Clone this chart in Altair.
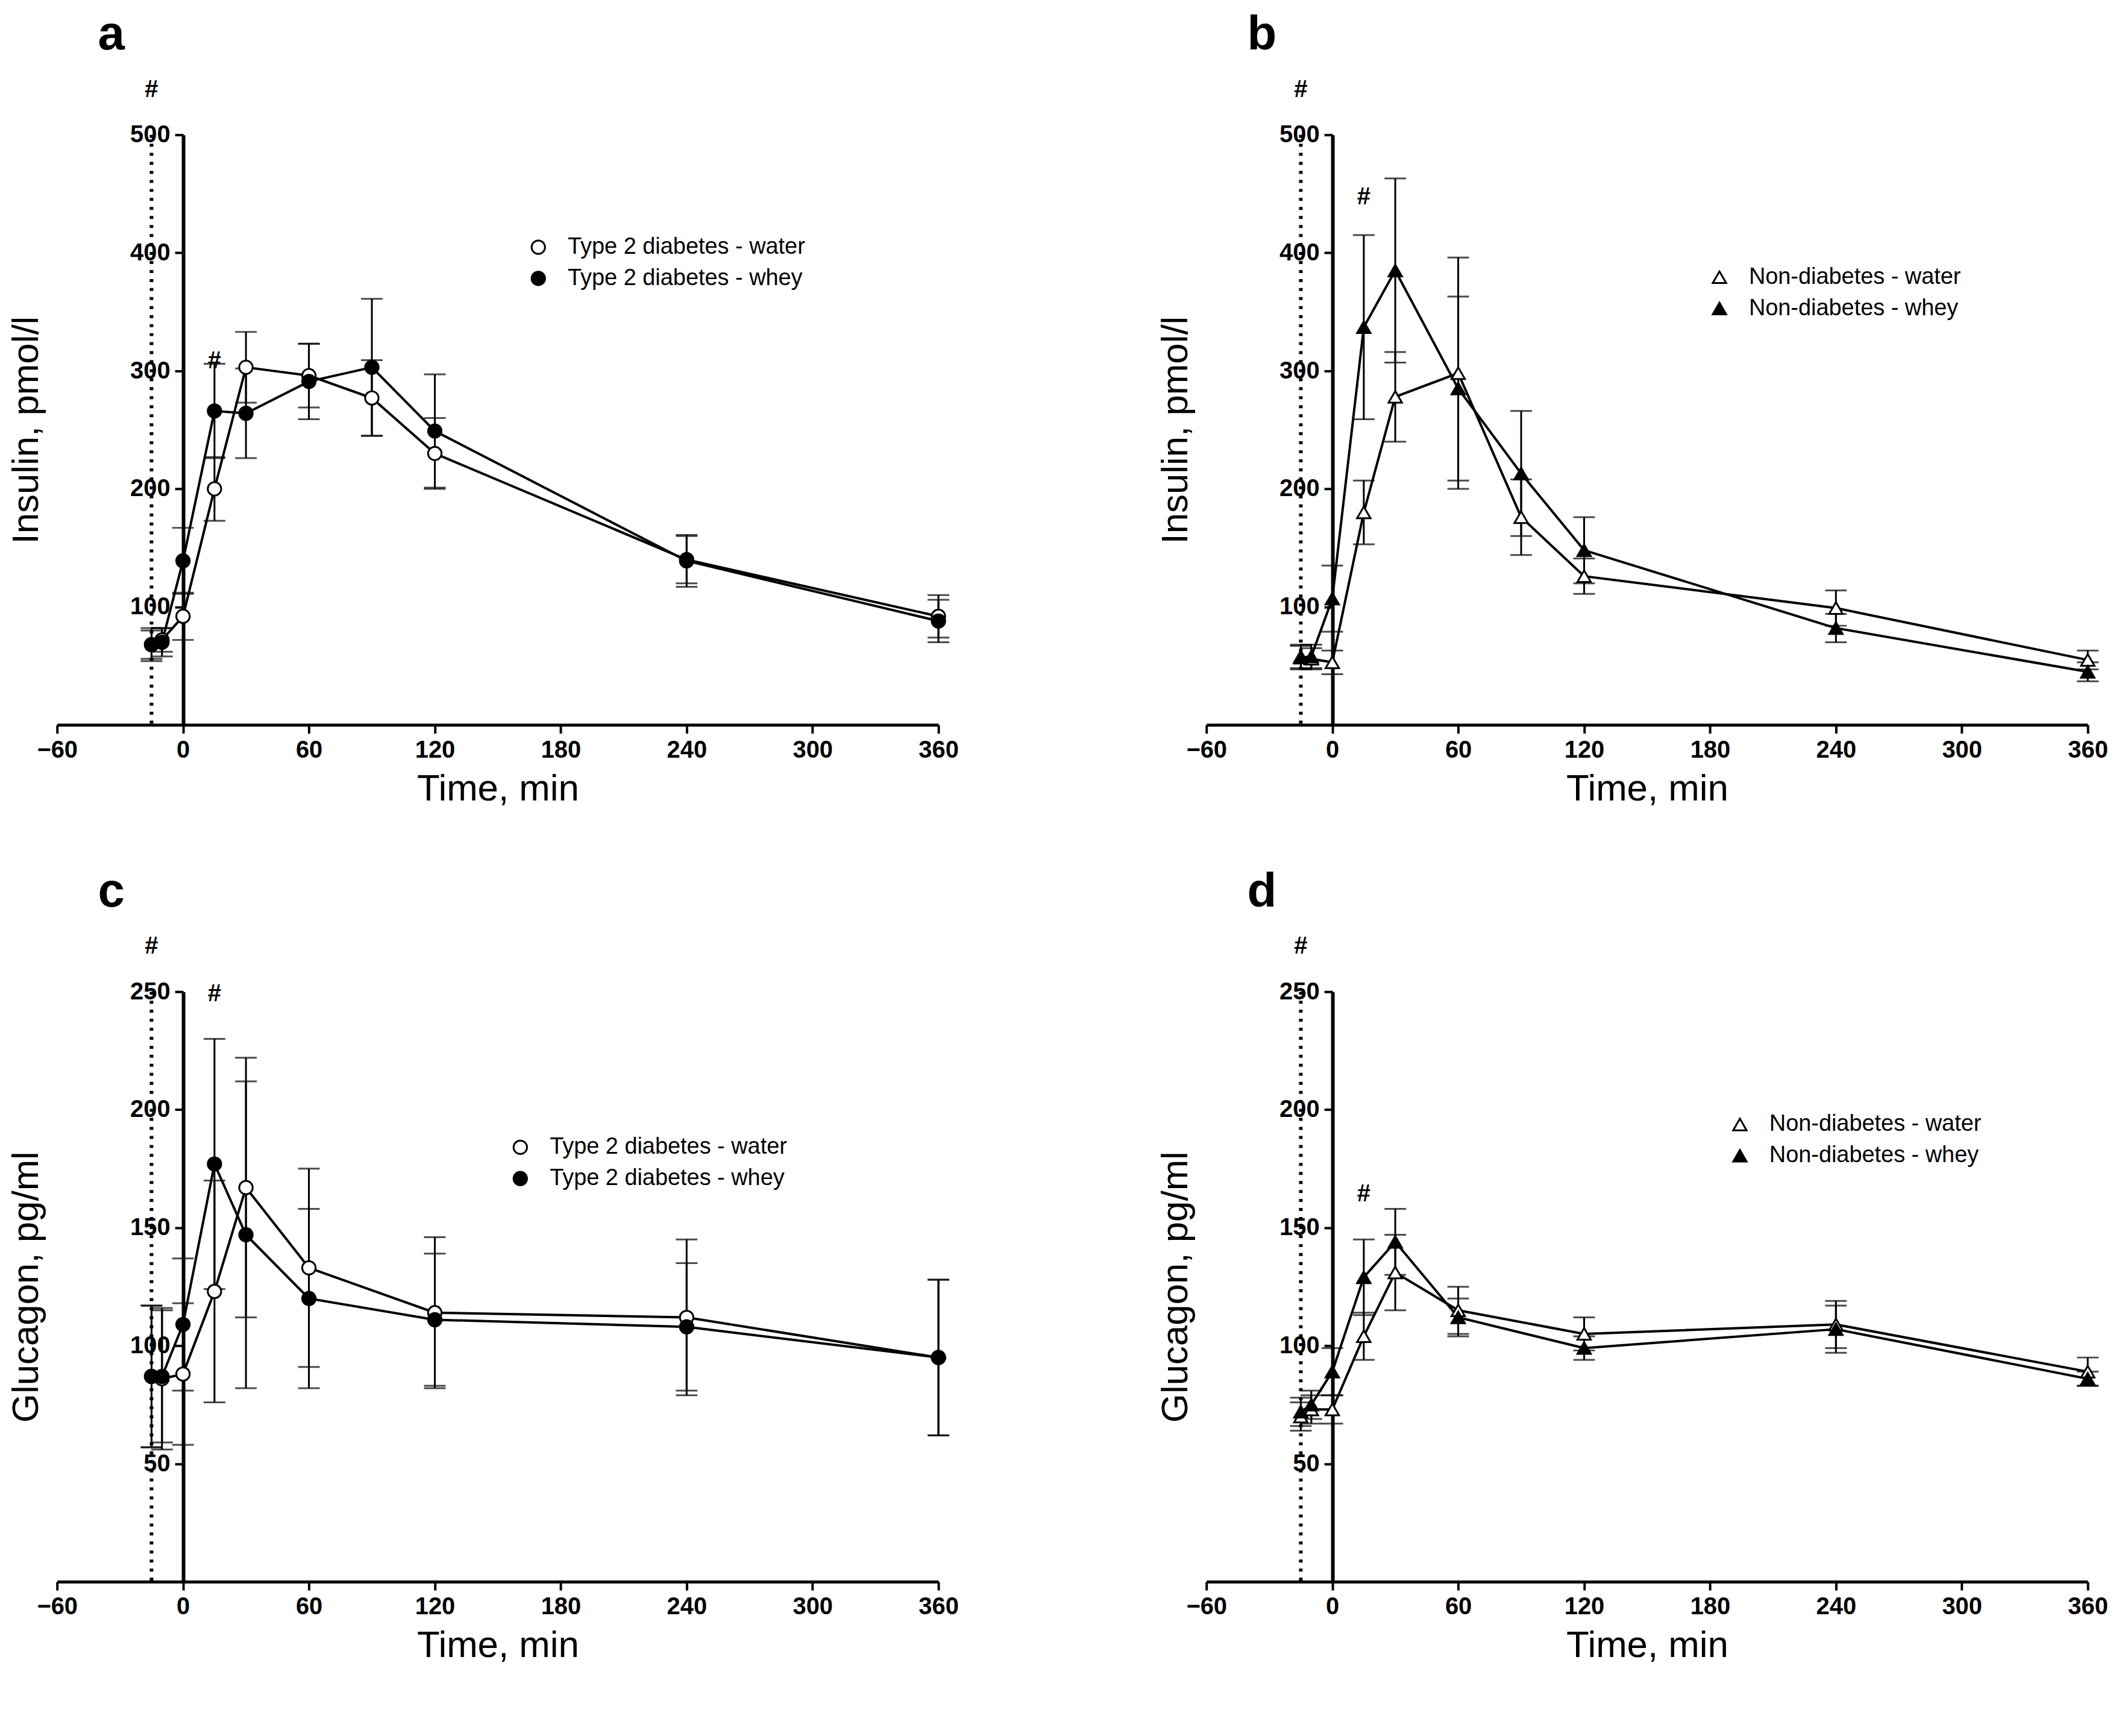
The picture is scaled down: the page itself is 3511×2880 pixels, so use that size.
import altair as alt
import pandas as pd

FUENTE = "Liberation Sans"

T_INS = [-15, -10, 0, 15, 30, 60, 90, 120, 240, 360]
T_GLU = [-15, -10, 0, 15, 30, 60, 120, 240, 360]

# a: insulina, diabetes tipo 2
A_AGUA = [68, 72, 92, 200, 303, 296, 277, 230, 140, 92]
A_AGUA_ERR = [12, 10, 20, 27, 30, 27, 32, 30, 20, 18]
A_SUERO = [68, 70, 139, 266, 264, 291, 303, 249, 139, 88]
A_SUERO_ERR = [14, 12, 28, 40, 38, 32, 58, 48, 22, 18]

# b: insulina, sin diabetes
B_AGUA = [58, 56, 53, 180, 278, 298, 176, 126, 99, 55]
B_AGUA_ERR = [10, 9, 10, 27, 38, 98, 32, 15, 15, 8]
B_SUERO = [57, 58, 107, 337, 385, 285, 213, 148, 82, 45]
B_SUERO_ERR = [10, 10, 28, 78, 78, 78, 53, 28, 12, 8]

# c: glucagón, diabetes tipo 2
C_AGUA = [87, 86, 88, 123, 167, 133, 114, 112, 95]
C_AGUA_ERR = [30, 30, 30, 47, 55, 42, 32, 33, 33]
C_SUERO = [87, 87, 109, 177, 147, 120, 111, 108, 95]
C_SUERO_ERR = [30, 28, 28, 53, 65, 38, 28, 27, 33]

# d: glucagón, sin diabetes
D_AGUA = [70, 73, 73, 104, 131, 115, 105, 109, 89]
D_AGUA_ERR = [6, 6, 6, 10, 16, 10, 7, 10, 6]
D_SUERO = [72, 75, 89, 129, 144, 112, 99, 107, 86]
D_SUERO_ERR = [6, 6, 10, 16, 14, 8, 5, 10, 3]

ALMOHADILLAS = {
    "a": [(-15, 526), (15, 296)],
    "b": [(-15, 526), (15, 435)],
    "c": [(-15, 263), (15, 243)],
    "d": [(-15, 263), (15, 158)],
}

W, H = 1467, 982


def leyenda(lx, ly):
    return alt.Legend(title=None, orient="none", legendX=lx, legendY=ly,
                      labelFontSize=38, labelFont=FUENTE, labelLimit=0,
                      symbolSize=500, symbolStrokeWidth=3, rowPadding=14,
                      labelOffset=30)


def panel(letra, tiempos, agua, agua_err, suero, suero_err, grupo, forma,
          ymax, yvalores, ytitulo, lx, ly):
    n_agua = f"{grupo} - water"
    n_suero = f"{grupo} - whey"
    filas = []
    for t, v, e in zip(tiempos, agua, agua_err):
        filas.append({"t": t, "v": v, "lo": v - e, "hi": v + e, "serie": n_agua})
    for t, v, e in zip(tiempos, suero, suero_err):
        filas.append({"t": t, "v": v, "lo": v - e, "hi": v + e, "serie": n_suero})
    df = pd.DataFrame(filas)
    orden = [n_agua, n_suero]

    x = alt.X("t:Q", scale=alt.Scale(domain=[-60, 360], nice=False),
              axis=alt.Axis(values=list(range(-60, 361, 60)), title="Time, min",
                            titleFontSize=62, titleFontWeight="normal", titlePadding=14,
                            labelFontSize=40, labelFontWeight="bold", tickSize=14,
                            tickWidth=4, domainWidth=5, domainColor="black",
                            tickColor="black", grid=False, labelFlush=False,
                            labelPadding=8))
    y = alt.Y("v:Q", scale=alt.Scale(domain=[0, ymax], nice=False),
              axis=alt.Axis(values=yvalores, title=ytitulo, offset=-210,
                            titleX=-229, titleFontSize=62, titleFontWeight="normal",
                            labelFontSize=40, labelFontWeight="bold", tickSize=14,
                            tickWidth=4, domainWidth=6, domainColor="black",
                            tickColor="black", grid=False, labelPadding=8))
    base = alt.Chart(df)
    barras = base.mark_rule(color="black", strokeWidth=3).encode(
        x="t:Q", y="lo:Q", y2="hi:Q")
    tapa_lo = base.mark_tick(color="black", thickness=3, size=36,
                             orient="horizontal").encode(x="t:Q", y="lo:Q")
    tapa_hi = base.mark_tick(color="black", thickness=3, size=36,
                             orient="horizontal").encode(x="t:Q", y="hi:Q")
    lineas = base.mark_line(color="black", strokeWidth=4).encode(
        x=x, y=y, detail="serie:N")
    puntos = base.mark_point(strokeWidth=3, size=500, opacity=1,
                             filled=False).encode(
        x="t:Q", y="v:Q",
        shape=alt.Shape("serie:N", sort=orden,
                        scale=alt.Scale(domain=orden, range=[forma, forma]),
                        legend=leyenda(lx, ly)),
        fill=alt.Fill("serie:N", sort=orden,
                      scale=alt.Scale(domain=orden, range=["white", "black"]),
                      legend=leyenda(lx, ly)),
        stroke=alt.Stroke("serie:N", sort=orden,
                          scale=alt.Scale(domain=orden, range=["black", "black"]),
                          legend=leyenda(lx, ly)),
    )
    punteada = alt.Chart(pd.DataFrame({"t": [-15]})).mark_rule(
        color="black", strokeWidth=6, strokeDash=[5, 10]).encode(x="t:Q")
    h = pd.DataFrame(ALMOHADILLAS[letra], columns=["t", "v"])
    h["txt"] = "#"
    hashes = alt.Chart(h).mark_text(fontSize=40, fontWeight="bold", baseline="bottom",
                                    font=FUENTE, dy=-4).encode(
        x="t:Q", y="v:Q", text="txt:N")
    return alt.layer(punteada, lineas, barras, tapa_lo, tapa_hi, puntos, hashes).properties(
        width=W, height=H,
        title=alt.TitleParams(letra, anchor="start", fontSize=80, fontWeight="bold",
                              font=FUENTE, dx=150, offset=30),
    )


ins_vals = [100, 200, 300, 400, 500]
glu_vals = [50, 100, 150, 200, 250]

pa = panel("a", T_INS, A_AGUA, A_AGUA_ERR, A_SUERO, A_SUERO_ERR, "Type 2 diabetes",
           "circle", 500, ins_vals, "Insulin, pmol/l", 782, 168)
pb = panel("b", T_INS, B_AGUA, B_AGUA_ERR, B_SUERO, B_SUERO_ERR, "Non-diabetes",
           "triangle-up", 500, ins_vals, "Insulin, pmol/l", 835, 218)
pc = panel("c", T_GLU, C_AGUA, C_AGUA_ERR, C_SUERO, C_SUERO_ERR, "Type 2 diabetes",
           "circle", 250, glu_vals, "Glucagon, pg/ml", 752, 240)
pd_ = panel("d", T_GLU, D_AGUA, D_AGUA_ERR, D_SUERO, D_SUERO_ERR, "Non-diabetes",
            "triangle-up", 250, glu_vals, "Glucagon, pg/ml", 869, 202)

indep = dict(shape="independent", fill="independent", stroke="independent")
fila1 = alt.hconcat(pa, pb, spacing=330).resolve_scale(**indep)
fila2 = alt.hconcat(pc, pd_, spacing=330).resolve_scale(**indep)
chart = alt.vconcat(fila1, fila2, spacing=100).resolve_scale(**indep).configure(
    font=FUENTE, background="white").configure_view(stroke=None).configure_axis(
    labelFont=FUENTE, titleFont=FUENTE, labelColor="black", titleColor="black")

chart.save("out.html", embed_options={"renderer": "svg", "actions": False})
